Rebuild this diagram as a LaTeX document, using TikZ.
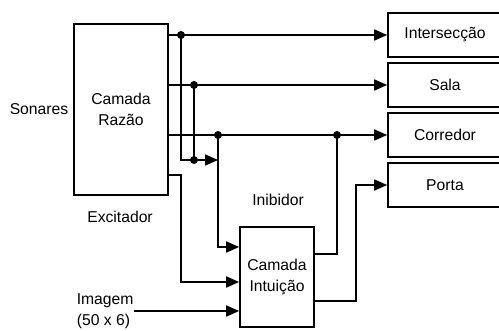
\documentclass[tikz,border=0pt]{standalone}
\usepackage{fontspec}
\setmainfont{Liberation Sans}
\usetikzlibrary{arrows.meta, positioning, calc}

\begin{document}
\begin{tikzpicture}[x=1pt, y=-1pt, line width=1.6pt,
  font=\fontsize{15.7}{21}\selectfont,
  layer/.style={draw, line width=1.6pt, align=center, inner sep=0pt},
  outbox/.style={draw, line width=1.6pt, minimum width=114pt, minimum height=44pt, inner sep=0pt},
  arr/.style={-{Triangle[length=13pt, width=11pt]}},
  dot/.style={circle, fill=black, inner sep=0pt, minimum size=8pt}]
  \useasboundingbox (0,0) rectangle (499,331);
  % layers
  \node[layer, minimum width=94pt, minimum height=171pt] (razao) at (121,109.5) {Camada\\Razão};
  \node[layer, minimum width=74pt, minimum height=100pt] (intuicao) at (277,277) {Camada\\Intuição};
  % outputs
  \node[outbox] (inter) at (445,35) {Intersecção};
  \node[outbox] (sala) at (445,85) {Sala};
  \node[outbox] (corr) at (445,135) {Corredor};
  \node[outbox] (porta) at (445,185) {Porta};
  % labels
  \node (sonares) at (39,109) {Sonares};
  \node (excit) at (120,217) {Excitador};
  \node (inib) at (278,200) {Inibidor};
  \node[anchor=west, align=left, inner sep=0pt] (img) at (76,311) {Imagem\\(50 x 6)};
  % junctions
  \coordinate (j1) at (181,35);
  \coordinate (j2) at (194,85);
  \coordinate (j3) at (218,135);
  \coordinate (j4) at (337,135);
  \coordinate (j5) at (194,160);
  \coordinate (k1) at (181,160);
  \coordinate (k2) at (218,247);
  \coordinate (k3) at (181,175);
  \coordinate (k4) at (181,282);
  \coordinate (k5) at (337,254);
  \coordinate (k6) at (356,301);
  \coordinate (k7) at (356,185);
  % excitatory paths
  \draw[arr] (inter.west -| razao.east) -- (inter.west);
  \draw[arr] (sala.west -| razao.east) -- (sala.west);
  \draw[arr] (corr.west -| razao.east) -- (corr.west);
  \draw (j1) -- (k1) -- (j5);
  \draw (j2) -- (j5);
  \draw[arr] (j5) -- (j3 |- j5);
  \draw[arr] (j3) -- (k2) -- (k2 -| intuicao.west);
  \draw[arr] (k3 -| razao.east) -- (k3) -- (k4) -- (k4 -| intuicao.west);
  \draw[arr] (img.east |- 0,311) -- (intuicao.west |- 0,311);
  % inhibitor paths
  \draw (k5 -| intuicao.east) -- (k5) -- (j4);
  \draw[arr] (k6 -| intuicao.east) -- (k6) -- (k7) -- (porta.west);
  % dots
  \foreach \j in {j1, j2, j3, j4, j5}
    \node[dot] at (\j) {};
\end{tikzpicture}
\end{document}
